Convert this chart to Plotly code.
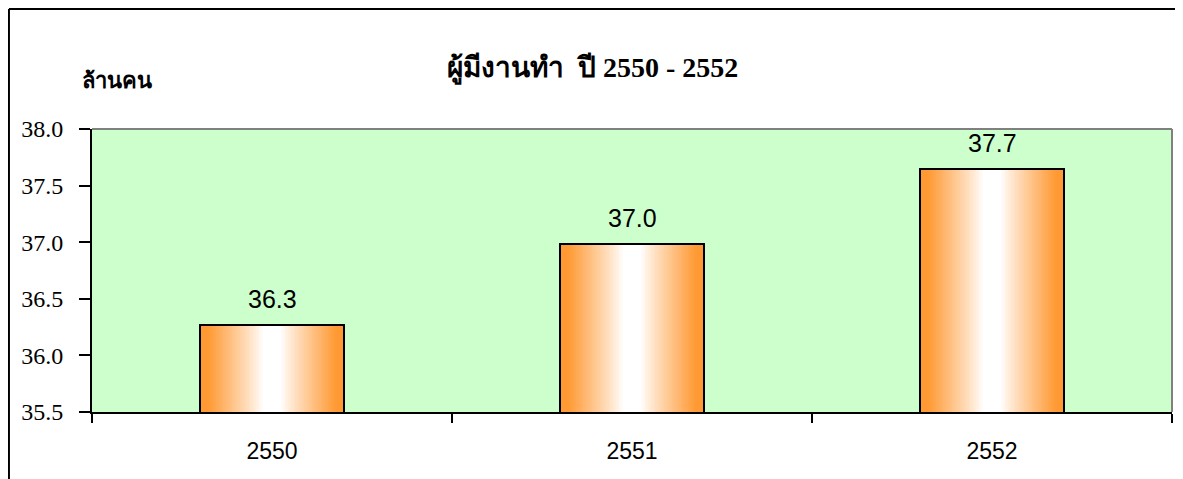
import plotly.graph_objects as go
import numpy as np

years = ["2550", "2551", "2552"]
employed = [36.27, 36.98, 37.65]
labels = ["36.3", "37.0", "37.7"]
y_ticks = [35.5, 36.0, 36.5, 37.0, 37.5, 38.0]

title_text = "ผู้มีงานทำ  ปี 2550 - 2552"
unit_text = "ล้านคน"

BAR_W = 0.4
ORANGE = np.array([255, 153, 51])
WHITE = np.array([255, 255, 255])

fig = go.Figure()

N = 40
for k in range(N):
    frac = 1 - k / N  # outer half-width fraction
    t = frac - 0.5 / N
    s = np.clip((t - 0.12) / 0.78, 0, 1) ** 0.9
    c = WHITE + (ORANGE - WHITE) * s
    fig.add_trace(go.Bar(
        x=years, y=employed, width=BAR_W * frac,
        marker=dict(color="rgb(%d,%d,%d)" % tuple(c.astype(int)), line=dict(width=0)),
        hoverinfo="skip", showlegend=False,
    ))

fig.add_trace(go.Bar(
    x=years, y=employed, width=BAR_W,
    marker=dict(color="rgba(0,0,0,0)", line=dict(color="black", width=2)),
    hoverinfo="skip", showlegend=False,
))

for i, (yv, lab) in enumerate(zip(employed, labels)):
    fig.add_annotation(x=i, y=yv, text=lab, showarrow=False, yshift=26, yanchor="middle",
                       font=dict(family="Liberation Sans", size=25, color="black"))

fig.add_annotation(xref="paper", yref="paper", x=0.463, y=1.0, yshift=61, yanchor="middle",
                   text="<b>" + title_text + "</b>", showarrow=False,
                   font=dict(family="Liberation Serif", size=28, color="black"))
fig.add_annotation(xref="paper", yref="paper", x=-0.0111, y=1.0, yshift=49, yanchor="middle",
                   xanchor="left", text="<b>" + unit_text + "</b>", showarrow=False,
                   font=dict(family="Liberation Sans", size=22, color="black"))

# plot area top/right gray border
fig.add_shape(type="line", xref="paper", yref="paper", x0=0, x1=1, y0=1, y1=1,
              line=dict(color="#808080", width=2))
fig.add_shape(type="line", xref="paper", yref="paper", x0=1, x1=1, y0=0, y1=1,
              line=dict(color="#808080", width=2))
# outer chart border
fig.add_shape(type="line", xref="paper", yref="paper", x0=-0.0769, x1=-0.0769, y0=-0.4, y1=1.424,
              line=dict(color="black", width=2))
fig.add_shape(type="line", xref="paper", yref="paper", x0=-0.0769, x1=1.0083, y0=1.424, y1=1.424,
              line=dict(color="black", width=2))
fig.add_shape(type="line", xref="paper", yref="paper", x0=1.0083, x1=1.0083, y0=-0.4, y1=1.424,
              line=dict(color="#a0a0a0", width=2))

fig.update_layout(
    width=1175, height=471,
    margin=dict(l=84, r=11, t=121, b=67),
    barmode="overlay", bargap=0,
    plot_bgcolor="#CCFFCC", paper_bgcolor="white",
    xaxis=dict(type="category", range=[-0.5, 2.5], showline=True, linecolor="black", linewidth=2,
               ticks="outside", tickson="boundaries", ticklen=9, tickwidth=2, tickcolor="black",
               showgrid=False, ticklabelstandoff=17, tickangle=0,
               tickfont=dict(family="Liberation Sans", size=23, color="black")),
    yaxis=dict(range=[35.5, 38.0], tickvals=y_ticks, tickformat=".1f",
               showline=True, linecolor="black", linewidth=2,
               ticks="outside", ticklen=11, tickwidth=2, tickcolor="black",
               showgrid=False, zeroline=False, ticklabelstandoff=11,
               tickfont=dict(family="Liberation Serif", size=24, color="black")),
)

fig.write_html("out.html")
